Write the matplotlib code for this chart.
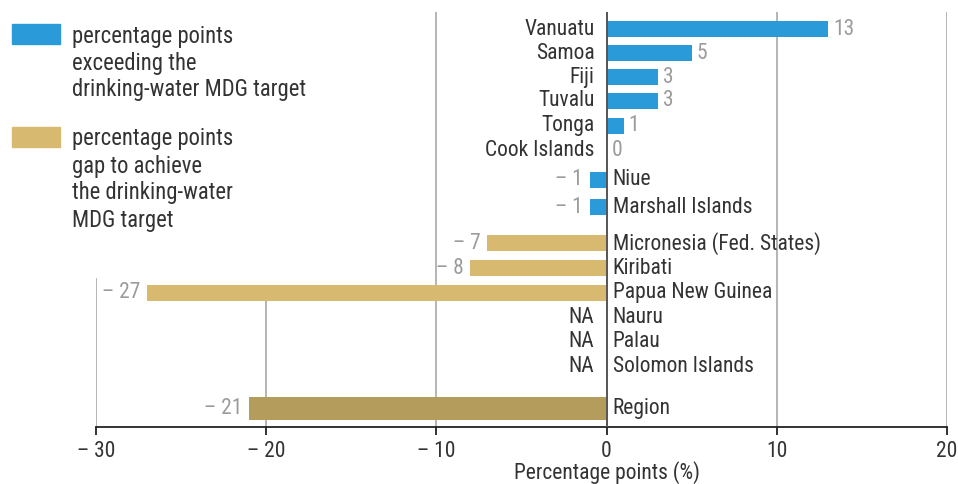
import matplotlib
matplotlib.use("Agg")
import matplotlib.pyplot as plt
import matplotlib.transforms as mtransforms
from matplotlib.patches import Rectangle

plt.rcParams["font.family"] = ["Roboto Condensed", "DejaVu Sans"]

countries = ["Vanuatu", "Samoa", "Fiji", "Tuvalu", "Tonga", "Cook Islands",
             "Niue", "Marshall Islands", "Micronesia (Fed. States)", "Kiribati",
             "Papua New Guinea", "Nauru", "Palau", "Solomon Islands", "Region"]
values = [13, 5, 3, 3, 1, 0, -1, -1, -7, -8, -27, None, None, None, -21]
# bar groups: exceeding target, gap to target, regional aggregate
groups = ["exceed", "exceed", "exceed", "exceed", "exceed", "exceed",
          "exceed", "exceed", "gap", "gap", "gap", "na", "na", "na", "region"]

# row layout (row units, top to bottom)
rows = [0, 0.99, 1.98, 2.96, 3.99, 4.98, 6.21, 7.33, 8.81, 9.84, 10.86,
        11.89, 12.88, 13.87, 15.6]

BLUE = "#2a9bd8"
TAN = "#d7ba6f"
DARK_TAN = "#b39c5c"
NAME_C = "#333333"
VAL_C = "#9b9b9b"
FS = 15.5

fig = plt.figure(figsize=(9.58, 4.84), dpi=100)
ax = fig.add_axes([96 / 958, 1 - 427 / 484, (947 - 96) / 958, (427 - 12) / 484])
ax.set_xlim(-30, 20)
ax.set_ylim(16.38, -0.7)

# vertical grid lines, the left ones stop short under the legend
grid_c = "#a8a8a8"
for gx in (-10, 10, 20):
    ax.axvline(gx, color=grid_c, lw=1.2, zorder=0)
ax.plot([-30, -30], [10.3, 16.38], color=grid_c, lw=1.2, zorder=0)
ax.plot([-20, -20], [11.2, 16.38], color=grid_c, lw=1.2, zorder=0)
ax.axvline(0, color="#555555", lw=1.4, zorder=3)


def label(x, y, s, dx, ha, color):
    # dx in pixels at 100 dpi
    ax.annotate(s, (x, y), xytext=(dx * 0.72, 0), textcoords="offset points",
                ha=ha, va="center", fontsize=FS, color=color)


colors = {"exceed": BLUE, "gap": TAN, "region": DARK_TAN}
for name, v, g, y in zip(countries, values, groups, rows):
    if v is None:
        label(0, y, "NA", -13, "right", NAME_C)
        label(0, y, name, 6, "left", NAME_C)
        continue
    h = 0.95 if g == "region" else 0.66
    ax.barh(y, v, height=h, color=colors[g], zorder=2)
    if v >= 0:
        label(0, y, name, -12, "right", NAME_C)
        label(v, y, f"{v}", 5, "left", VAL_C)
    else:
        label(0, y, name, 6, "left", NAME_C)
        label(v, y, f"\u2013 {abs(v)}", -7, "right", VAL_C)

ax.set_yticks([])
for s in ["top", "right", "left"]:
    ax.spines[s].set_visible(False)
ax.spines["bottom"].set_color("#222222")
ax.spines["bottom"].set_linewidth(1.3)
ticks = [-30, -20, -10, 0, 10, 20]
ax.set_xticks(ticks)
ax.set_xticklabels([f"\u2013 {abs(t)}" if t < 0 else str(t) for t in ticks],
                   fontsize=FS, color=NAME_C)
ax.tick_params(axis="x", direction="out", length=6, width=1.3, color="#222222", pad=4)

trans = mtransforms.blended_transform_factory(ax.transData, fig.transFigure)
fig.text(0, 1 - 473 / 484, "Percentage points (%)", transform=trans,
         ha="center", va="center", fontsize=FS, color=NAME_C)

# legend drawn in figure pixels
def px(x, y):
    return x / 958, 1 - y / 484

legend_items = [
    (BLUE, 24, ["percentage points", "exceeding the", "drinking-water MDG target"]),
    (TAN, 127, ["percentage points", "gap to achieve", "the drinking-water", "MDG target"]),
]
for col, top, lines in legend_items:
    x0, y0 = px(12, top + 20)
    fig.patches.append(Rectangle((x0, y0), 48 / 958, 20 / 484, color=col,
                                 transform=fig.transFigure, figure=fig))
    for i, line in enumerate(lines):
        tx, ty = px(72, top + 12 + 27 * i)
        fig.text(tx, ty, line, ha="left", va="center", fontsize=16.3, color=NAME_C)

fig.savefig("out.png", dpi=100)
